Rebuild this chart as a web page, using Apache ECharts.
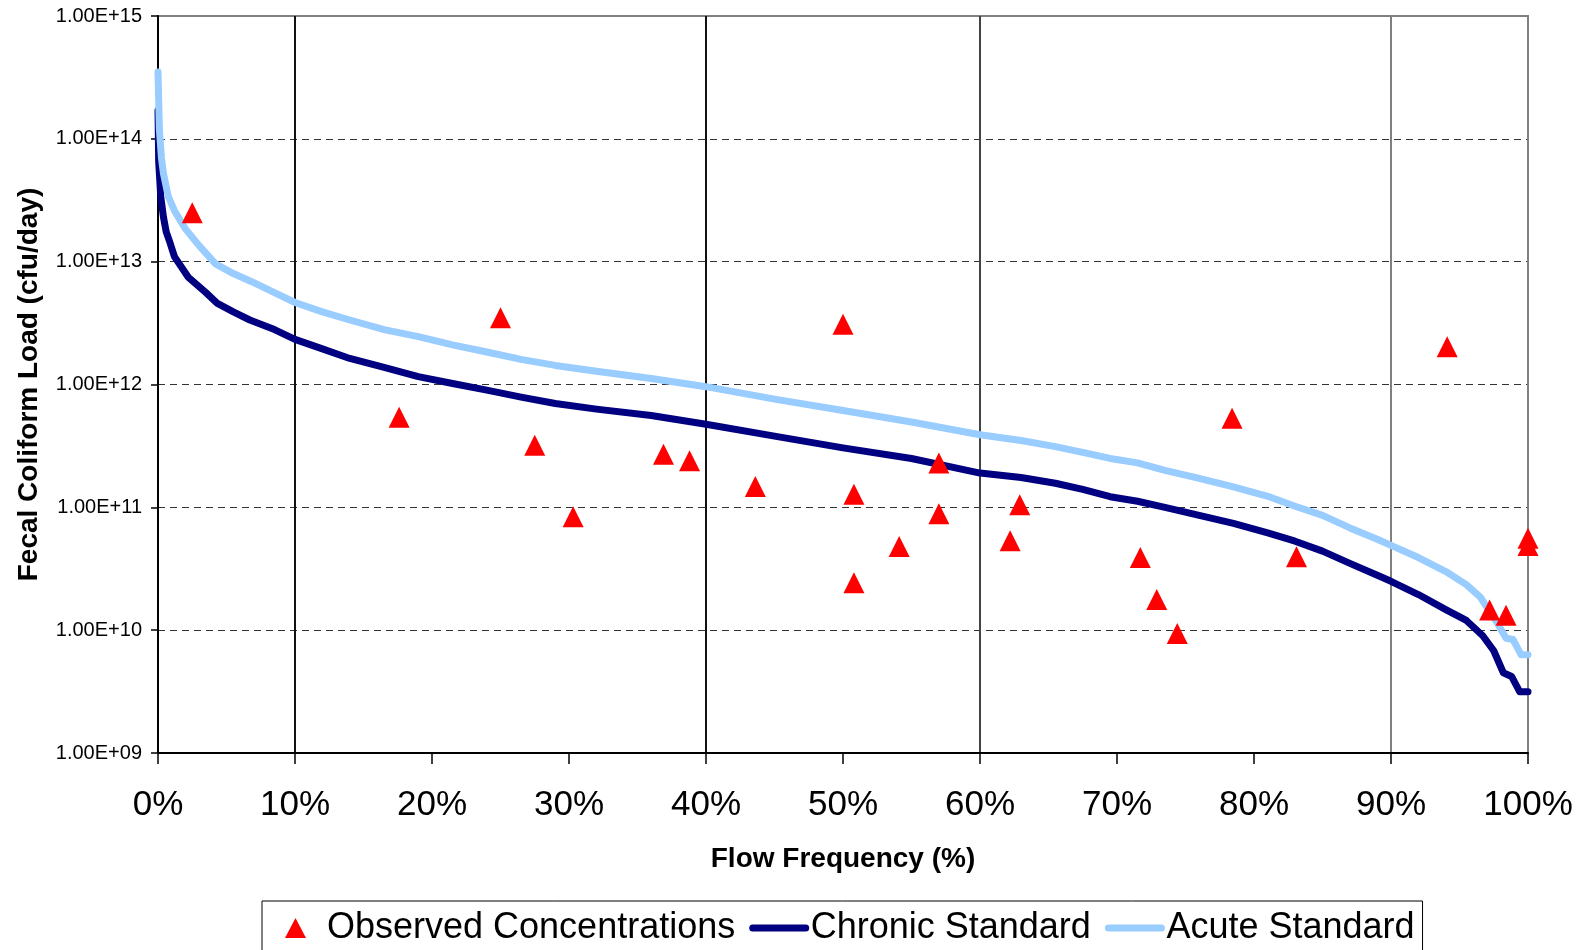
<!DOCTYPE html>
<html>
<head>
<meta charset="utf-8">
<title>Fecal Coliform Load Duration Curve</title>
<script src="https://cdn.jsdelivr.net/npm/echarts@6/dist/echarts.min.js"></script>
<style>
  html, body { margin: 0; padding: 0; background: #fff; }
  #chart { width: 1581px; height: 950px; }
</style>
</head>
<body>
<div id="chart"></div>
<script>
// [flow frequency %, load cfu/day]
const observed = [
  [2.5, 2.5e13], [17.6, 5.4e11], [25.0, 3.5e12], [27.5, 3.2e11], [30.3, 8.4e10],
  [36.9, 2.7e11], [38.8, 2.4e11], [43.6, 1.48e11], [50.0, 3.1e12], [50.8, 1.28e11],
  [50.8, 2.43e10], [54.1, 4.8e10], [57.0, 2.3e11], [57.0, 8.85e10], [62.2, 5.35e10],
  [62.9, 1.05e11], [71.7, 3.9e10], [72.9, 1.78e10], [74.4, 9.4e9], [78.4, 5.3e11],
  [83.1, 3.96e10], [94.1, 2.03e12], [97.2, 1.46e10], [98.4, 1.32e10], [100, 5.6e10],
  [100, 4.9e10]
];

const chronic = [
  [0, 1.7e14], [0.05, 6.5e13], [0.2, 3.4e13], [0.4, 2.3e13], [0.6, 1.75e13],
  [0.9, 1.4e13], [1.2, 1.1e13], [2.2, 7.5e12], [3.5, 5.6e12], [4.3, 4.6e12],
  [5.5, 3.9e12], [6.7, 3.35e12], [8.5, 2.8e12], [10, 2.33e12], [12, 1.95e12],
  [14, 1.63e12], [16.5, 1.38e12], [19, 1.16e12], [21.5, 1.02e12], [24, 9.0e11],
  [26.5, 7.9e11], [29, 7.0e11], [32, 6.3e11], [36, 5.6e11], [40, 4.75e11],
  [45, 3.8e11], [50, 3.05e11], [55, 2.5e11], [60, 1.9e11], [63, 1.75e11],
  [65.5, 1.57e11], [67.5, 1.4e11], [69.5, 1.22e11], [71.5, 1.12e11], [73.5, 1.0e11],
  [76, 8.6e10], [78.5, 7.4e10], [81, 6.2e10], [83, 5.3e10], [85, 4.4e10],
  [87, 3.5e10], [89, 2.8e10], [90, 2.5e10], [92, 1.95e10], [94, 1.47e10],
  [95.5, 1.2e10], [96.7, 9e9], [97.5, 6.8e9], [98.2, 4.5e9], [98.8, 4.2e9],
  [99.4, 3.15e9], [100, 3.15e9]
];

const acute = [
  [0, 3.5e14], [0.1, 1.2e14], [0.25, 7.0e13], [0.4, 5.2e13], [0.75, 3.4e13],
  [1.2, 2.6e13], [2, 1.85e13], [3, 1.35e13], [4.2, 9.6e12], [5.5, 8.0e12],
  [6.8, 6.9e12], [8.5, 5.6e12], [10, 4.65e12], [12, 3.9e12], [14, 3.35e12],
  [16.5, 2.8e12], [19, 2.45e12], [21.5, 2.1e12], [24, 1.84e12], [26.5, 1.6e12],
  [29, 1.43e12], [32, 1.28e12], [36, 1.12e12], [40, 9.6e11], [45, 7.6e11],
  [50, 6.15e11], [55, 4.95e11], [60, 3.9e11], [63, 3.5e11], [65.5, 3.12e11],
  [67.5, 2.8e11], [69.5, 2.5e11], [71.5, 2.3e11], [73.5, 2.0e11], [76, 1.72e11],
  [78.5, 1.47e11], [81, 1.23e11], [83, 1.02e11], [85, 8.6e10], [87, 6.8e10],
  [89, 5.5e10], [90, 4.9e10], [92, 3.9e10], [94, 3.0e10], [95.5, 2.35e10],
  [96.5, 1.87e10], [97.7, 1.17e10], [98.4, 8.6e9], [98.9, 8.4e9], [99.5, 6.3e9],
  [100, 6.3e9]
];

const yTickLabels = ['1.00E+09', '1.00E+10', '1.00E+11', '1.00E+12', '1.00E+13', '1.00E+14', '1.00E+15'];
const legendNames = ['Observed Concentrations', 'Chronic Standard', 'Acute Standard'];

const font = "'Liberation Sans', Arial, sans-serif";

// triangle centred in a 53x20 box (the lone moves fix the box corners)
const triangleIcon = 'path://M0,0M53,20M16,20L26.5,0L37,20Z';
// line entries in the legend: hide the marker dot, keep just the line
const lineLegendItem = name => ({ name, itemStyle: { color: 'transparent', borderWidth: 0, opacity: 0 } });

const chart = echarts.init(document.getElementById('chart'), null, { renderer: 'canvas' });
chart.setOption({
  animation: false,
  backgroundColor: '#fff',
  grid: {
    left: 158,
    right: 53,
    top: 16,
    bottom: 197,
    containLabel: false,
    outerBoundsMode: 'none',
    show: true,
    borderColor: '#808080',
    borderWidth: 2,
    backgroundColor: 'transparent',
  },
  legend: {
    data: [
      { name: legendNames[0], icon: triangleIcon },
      lineLegendItem(legendNames[1]),
      lineLegendItem(legendNames[2]),
    ],
    left: 262,
    top: 901,
    orient: 'horizontal',
    itemWidth: 53,
    itemHeight: 20,
    itemGap: 14,
    symbolKeepAspect: true,
    padding: [9, 8, 40, 7],
    borderColor: '#000',
    borderWidth: 1,
    selectedMode: false,
    lineStyle: { width: 7, cap: 'round' },
    textStyle: { fontSize: 36, color: '#000', fontFamily: font },
  },
  xAxis: {
    type: 'value',
    min: 0,
    max: 100,
    interval: 10,
    name: 'Flow Frequency (%)',
    nameLocation: 'middle',
    nameGap: 92,
    nameTextStyle: { fontSize: 28, fontWeight: 'bold', color: '#000', fontFamily: font },
    axisLine: { show: true, lineStyle: { color: '#000', width: 2 } },
    axisTick: { show: true, inside: false, length: 11, lineStyle: { color: '#000', width: 1.5 } },
    axisLabel: { formatter: '{value}%', fontSize: 35, color: '#000', margin: 35, fontFamily: font },
    splitLine: {
      show: true,
      showMinLine: true,
      showMaxLine: true,
      lineStyle: {
        width: 2,
        color: ['#000', '#111', 'transparent', 'transparent', '#111', 'transparent',
                '#444', 'transparent', 'transparent', '#808080', '#808080'],
      },
    },
  },
  yAxis: {
    type: 'log',
    logBase: 10,
    min: 1e9,
    max: 1e15,
    name: 'Fecal Coliform Load (cfu/day)',
    nameLocation: 'middle',
    nameRotate: 90,
    nameGap: 115,
    nameTextStyle: { fontSize: 28, fontWeight: 'bold', color: '#000', fontFamily: font },
    axisLine: { show: true, lineStyle: { color: '#000', width: 2 } },
    axisTick: { show: true, inside: false, length: 7, lineStyle: { color: '#000', width: 1.5 } },
    axisLabel: {
      fontSize: 20,
      color: '#000',
      margin: 16,
      fontFamily: font,
      formatter: v => yTickLabels[Math.round(Math.log10(v)) - 9],
    },
    splitLine: {
      show: true,
      showMinLine: false,
      showMaxLine: false,
      lineStyle: { color: '#333', width: 1.2, type: [7, 5] },
    },
  },
  series: [
    {
      name: 'Chronic Standard',
      type: 'line',
      data: chronic,
      symbol: 'none',
      color: '#000080',
      lineStyle: { color: '#000080', width: 7, cap: 'round', join: 'round' },
      z: 3,
    },
    {
      name: 'Acute Standard',
      type: 'line',
      data: acute,
      symbol: 'none',
      color: '#99CCFF',
      lineStyle: { color: '#99CCFF', width: 7, cap: 'round', join: 'round' },
      z: 3,
    },
    {
      name: 'Observed Concentrations',
      type: 'scatter',
      data: observed,
      symbol: 'triangle',
      symbolSize: 21,
      itemStyle: { color: '#FF0000', opacity: 1 },
      z: 4,
    },
  ],
});
</script>
</body>
</html>
